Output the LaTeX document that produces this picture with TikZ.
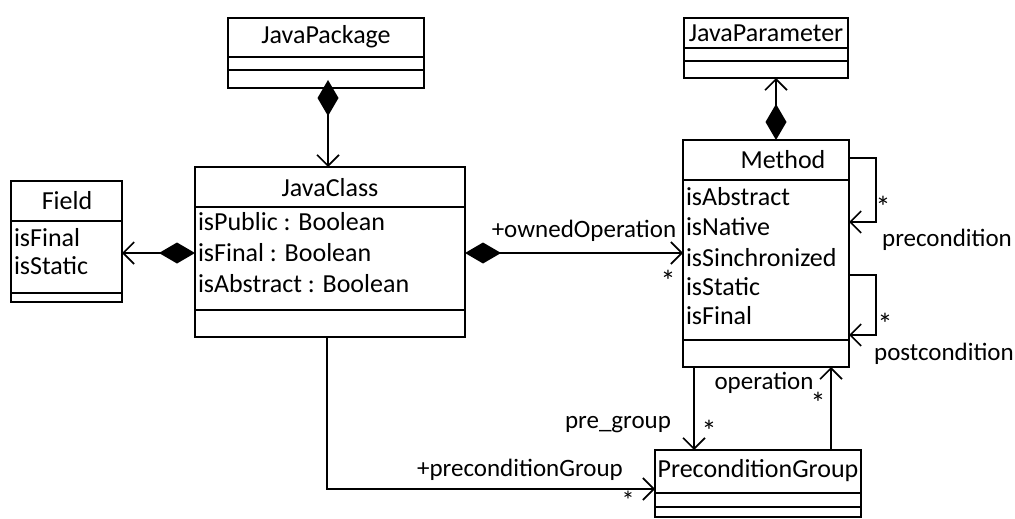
\documentclass[tikz,border=0pt]{standalone}
\usepackage{fontspec}
\setmainfont{Carlito}
\usetikzlibrary{arrows.meta}
\begin{document}
\begin{tikzpicture}[x=1pt,y=-1pt,
  every node/.style={font=\fontsize{26}{30}\selectfont, inner sep=0pt, outer sep=0pt},
  box/.style={draw, line width=2.6pt, anchor=north west, fill=white},
  sep/.style={line width=1.8pt},
  conn/.style={line width=1.6pt},
  open/.style={-{Straight Barb[length=11pt,width=22pt,line width=1.6pt]}},
  compopen/.style={{Diamond[length=36pt,width=21pt,fill=black]}-{Straight Barb[length=11pt,width=22pt,line width=1.6pt]}},
  lbl/.style={font=\fontsize{25}{29}\selectfont},
  star/.style={font=\fontsize{30}{34}\selectfont}]
\useasboundingbox (0,0) rectangle (1015,519);

% JavaPackage
\node[box, minimum width=196, minimum height=70] (pkg) at (228,18) {};
\draw[sep] (228,57) -- (424,57);
\draw[sep] (228,70) -- (424,70);
\node (pkgname) at (326,37) {JavaPackage};

% JavaClass
\node[box, minimum width=270, minimum height=170] (cls) at (195,167) {};
\draw[sep] (195,207) -- (465,207);
\draw[sep] (195,310) -- (465,310);
\node (clsname) at (330,188) {JavaClass};
\node[anchor=west] (clsa1) at (198,222) {isPublic : Boolean};
\node[anchor=west] (clsa2) at (198,253) {isFinal : Boolean};
\node[anchor=west] (clsa3) at (198,284) {isAbstract : Boolean};

% Field
\node[box, minimum width=111, minimum height=121] (fld) at (11,181) {};
\draw[sep] (11,221) -- (122,221);
\draw[sep] (11,293) -- (122,293);
\node (fldname) at (67,201) {Field};
\node[anchor=west] (flda1) at (14,238) {isFinal};
\node[anchor=west] (flda2) at (14,266) {isStatic};

% JavaParameter
\node[box, minimum width=164, minimum height=60] (par) at (684,18) {};
\draw[sep] (684,48) -- (848,48);
\draw[sep] (684,61) -- (848,61);
\node (parname) at (766,33) {JavaParameter};

% Method
\node[box, minimum width=166, minimum height=227] (meth) at (683,140) {};
\draw[sep] (683,180) -- (849,180);
\draw[sep] (683,340) -- (849,340);
\node (methname) at (783,160) {Method};
\node[anchor=west] (ma1) at (686,197) {isAbstract};
\node[anchor=west] (ma2) at (686,227) {isNative};
\node[anchor=west] (ma3) at (686,258) {isSinchronized};
\node[anchor=west] (ma4) at (686,287) {isStatic};
\node[anchor=west] (ma5) at (686,316) {isFinal};

% PreconditionGroup
\node[box, minimum width=206, minimum height=67] (pg) at (655,450) {};
\draw[sep] (655,493) -- (861,493);
\draw[sep] (655,507) -- (861,507);
\node (pgname) at (758,471) {PreconditionGroup};

% connectors
\draw[conn, compopen] ([yshift=8]pkg.south -| 328,0) -- (cls.north -| 328,0);
\draw[conn, compopen] (cls.west |- 0,253) -- (fld.east |- 0,253);
\draw[conn, compopen] (cls.east |- 0,253) -- (meth.west |- 0,253);
\draw[conn, compopen] (meth.north -| 776,0) -- (par.south -| 776,0);
\draw[conn, open] (meth.east |- 0,158) -- (876,158) -- (876,222) -- (meth.east |- 0,222);
\draw[conn, open] (meth.east |- 0,275) -- (876,275) -- (876,335) -- (meth.east |- 0,335);
\draw[conn, open] (meth.south -| 694,0) -- (pg.north -| 694,0);
\draw[conn, open] (pg.north -| 831,0) -- (meth.south -| 831,0);
\draw[conn, open] (cls.south -| 327,0) -- (327,489) -- (pg.west |- 0,489);

% labels
\node[lbl] (l1) at (584,231) {+ownedOperation};
\node[star] (s1) at (668,281) {*};
\node[star] (s2) at (883,207) {*};
\node[lbl] (l2) at (947,240) {precondition};
\node[star] (s3) at (885,324) {*};
\node[lbl] (l3) at (944,354) {postcondition};
\node[lbl] (l4) at (764,383) {operation};
\node[star] (s4) at (818,403) {*};
\node[lbl] (l5) at (618,425) {pre\_group};
\node[star] (s5) at (709,431) {*};
\node[lbl] (l6) at (520,470) {+preconditionGroup};
\node[star, font=\fontsize{26}{30}\selectfont] (s6) at (628,500) {*};
\end{tikzpicture}
\end{document}
